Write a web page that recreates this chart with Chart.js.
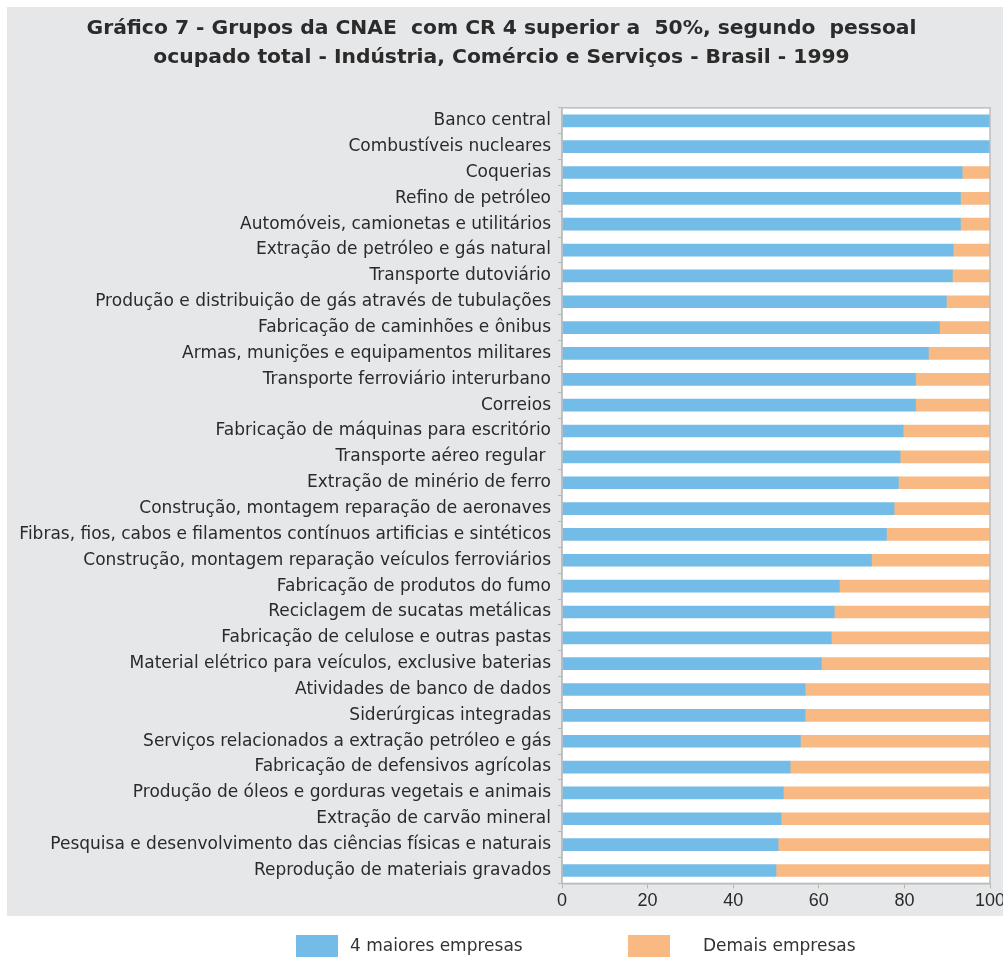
<!DOCTYPE html>
<html>
<head>
<meta charset="utf-8">
<script src="https://cdn.jsdelivr.net/npm/chart.js@4"></script>
<style>
  body { margin: 0; background: #ffffff; }
  #wrap { width: 1003px; height: 957px; }
</style>
</head>
<body>
<div id="wrap"><canvas id="grafico" width="1003" height="957"></canvas></div>
<script>
// Grupos da CNAE (de cima para baixo)
var grupos = [
    'Banco central',
    'Combustíveis nucleares',
    'Coquerias',
    'Refino de petróleo',
    'Automóveis, camionetas e utilitários',
    'Extração de petróleo e gás natural',
    'Transporte dutoviário',
    'Produção e distribuição de gás através de tubulações',
    'Fabricação de caminhões e ônibus',
    'Armas, munições e equipamentos militares',
    'Transporte ferroviário interurbano',
    'Correios',
    'Fabricação de máquinas para escritório',
    'Transporte aéreo regular ',
    'Extração de minério de ferro',
    'Construção, montagem reparação de aeronaves',
    'Fibras, fios, cabos e filamentos contínuos artificias e sintéticos',
    'Construção, montagem reparação veículos ferroviários',
    'Fabricação de produtos do fumo',
    'Reciclagem de sucatas metálicas',
    'Fabricação de celulose e outras pastas',
    'Material elétrico para veículos, exclusive baterias',
    'Atividades de banco de dados',
    'Siderúrgicas integradas',
    'Serviços relacionados a extração petróleo e gás',
    'Fabricação de defensivos agrícolas',
    'Produção de óleos e gorduras vegetais e animais',
    'Extração de carvão mineral',
    'Pesquisa e desenvolvimento das ciências físicas e naturais',
    'Reprodução de materiais gravados'
];

// participação (%) das 4 maiores empresas
var maiores = [100, 100, 93.5, 93.1, 93.1, 91.4, 91.2, 89.8, 88.2, 85.6,
               82.6, 82.6, 79.7, 79.0, 78.6, 77.6, 75.8, 72.3, 64.8, 63.6,
               62.9, 60.6, 56.8, 56.8, 55.7, 53.3, 51.7, 51.2, 50.5, 50.0];

// participação (%) das demais empresas
var demais = [0, 0, 6.5, 6.9, 6.9, 8.6, 8.8, 10.2, 11.8, 14.4,
              17.4, 17.4, 20.3, 21.0, 21.4, 22.4, 24.2, 27.7, 35.2, 36.4,
              37.1, 39.4, 43.2, 43.2, 44.3, 46.7, 48.3, 48.8, 49.5, 50.0];

var xTicks = [0, 20, 40, 60, 80, 100];

var titulo = [
    'Gráfico 7 - Grupos da CNAE  com CR 4 superior a  50%, segundo  pessoal',
    'ocupado total - Indústria, Comércio e Serviços - Brasil - 1999'
];

var azul = '#73bce7';
var laranja = '#f9b983';
var cinzaFundo = '#e6e7e9';
var fonte = '"Liberation Sans", Arial, sans-serif';
var fonteLarga = '"DejaVu Sans", sans-serif';

// fundo cinza, area branca do grafico e moldura
var fundoPlugin = {
    id: 'fundo',
    beforeDraw: function (chart) {
        var ctx = chart.ctx;
        var a = chart.chartArea;
        ctx.save();
        ctx.fillStyle = '#ffffff';
        ctx.fillRect(0, 0, chart.width, chart.height);
        ctx.fillStyle = cinzaFundo;
        ctx.fillRect(7, 7, chart.width - 7, 909);
        ctx.fillStyle = '#ffffff';
        ctx.fillRect(a.left, a.top, a.right - a.left, a.bottom - a.top);
        ctx.restore();
    },
    afterDatasetsDraw: function (chart) {
        var ctx = chart.ctx;
        var a = chart.chartArea;
        ctx.save();
        ctx.strokeStyle = '#bdbdbd';
        ctx.lineWidth = 1.5;
        ctx.strokeRect(a.left, a.top, a.right - a.left, a.bottom - a.top);
        ctx.restore();
    }
};

// legenda embaixo, fora do painel cinza
var legendaPlugin = {
    id: 'legendaBaixo',
    afterDraw: function (chart) {
        var ctx = chart.ctx;
        var itens = [
            { box: 296, txt: 350 },
            { box: 628, txt: 703 }
        ];
        ctx.save();
        ctx.font = '17px ' + fonteLarga;
        ctx.textBaseline = 'middle';
        chart.data.datasets.forEach(function (ds, i) {
            ctx.fillStyle = ds.backgroundColor;
            ctx.fillRect(itens[i].box, 935, 42, 22);
            ctx.fillStyle = '#333333';
            ctx.fillText(ds.label, itens[i].txt, 947);
        });
        ctx.restore();
    }
};

var ctx = document.getElementById('grafico').getContext('2d');

var grafico = new Chart(ctx, {
    type: 'bar',
    data: {
        labels: grupos,
        datasets: [{
            label: '4 maiores empresas',
            data: maiores,
            backgroundColor: azul,
            barThickness: 12
        }, {
            label: 'Demais empresas',
            data: demais,
            backgroundColor: laranja,
            barThickness: 12
        }]
    },
    options: {
        indexAxis: 'y',
        responsive: false,
        animation: false,
        layout: {
            padding: { left: 13, right: 13, top: 0, bottom: 43 }
        },
        plugins: {
            legend: { display: false },
            tooltip: { enabled: false },
            title: {
                display: true,
                text: titulo,
                color: '#2b2b2b',
                font: { family: fonteLarga, size: 20.3, weight: 'bold', lineHeight: 1.45 },
                padding: { top: 14, bottom: 35 }
            }
        },
        scales: {
            x: {
                stacked: true,
                min: 0,
                max: 100,
                afterBuildTicks: function (scale) {
                    scale.ticks = xTicks.map(function (v) { return { value: v }; });
                },
                afterFit: function (scale) {
                    scale.paddingRight = 0;
                },
                grid: {
                    drawOnChartArea: false,
                    drawTicks: true,
                    tickLength: 5,
                    color: '#b5b5b5'
                },
                border: { color: '#bdbdbd', width: 1.5 },
                ticks: {
                    color: '#2a2a2a',
                    padding: 2,
                    font: { family: fonte, size: 18 }
                }
            },
            y: {
                stacked: true,
                afterFit: function (scale) {
                    scale.width = 549;
                },
                grid: {
                    drawOnChartArea: false,
                    drawTicks: true,
                    tickLength: 4,
                    color: '#b5b5b5'
                },
                border: { color: '#bdbdbd', width: 1.5 },
                ticks: {
                    color: '#2a2a2a',
                    padding: 7,
                    autoSkip: false,
                    font: { family: fonteLarga, size: 17 }
                }
            }
        }
    },
    plugins: [fundoPlugin, legendaPlugin]
});
</script>
</body>
</html>
